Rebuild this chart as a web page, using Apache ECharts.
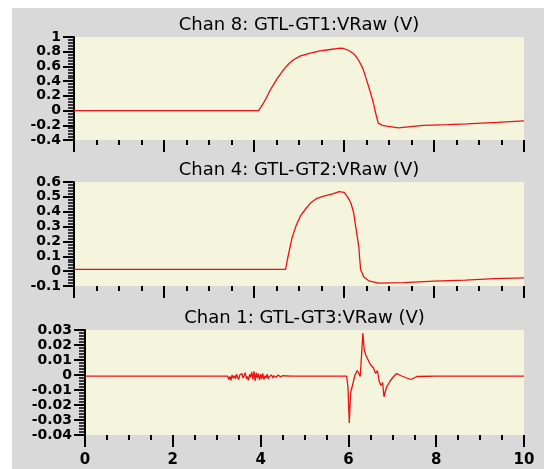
<!DOCTYPE html>
<html>
<head>
<meta charset="utf-8">
<script src="https://cdn.jsdelivr.net/npm/echarts@6/dist/echarts.min.js"></script>
<style>
  html, body { margin: 0; padding: 0; background: #fff; }
  #chart { width: 544px; height: 469px; }
</style>
</head>
<body>
<div id="chart"></div>
<script>
// panel titles
var titles = ["Chan 8: GTL-GT1:VRaw (V)", "Chan 4: GTL-GT2:VRaw (V)", "Chan 1: GTL-GT3:VRaw (V)"];

// Chan 8 (time in s, volts)
var chan8X = [0, 3.70, 3.72, 3.74, 3.86, 3.88, 3.95, 3.97, 4.10, 4.13, 4.20, 4.29, 4.36, 4.44, 4.51, 4.59, 4.69, 4.78, 4.88, 5.02, 5.25, 5.47, 5.70, 5.87, 5.96, 6.10, 6.22, 6.32, 6.42, 6.50, 6.58, 6.65, 6.71, 6.76, 6.85, 6.95, 7.21, 7.76, 8.30, 8.73, 9.40, 10];
var chan8Y = [0, 0, 0.012, 0, 0, 0.01, 0, 0.01, 0, 0.02, 0.09, 0.19, 0.28, 0.36, 0.43, 0.50, 0.58, 0.64, 0.69, 0.74, 0.78, 0.81, 0.83, 0.845, 0.85, 0.82, 0.77, 0.69, 0.57, 0.42, 0.26, 0.11, -0.05, -0.17, -0.20, -0.21, -0.235, -0.20, -0.19, -0.18, -0.16, -0.14];

// Chan 4
var chan4X = [0, 4.70, 4.72, 4.74, 4.80, 4.85, 4.94, 5.03, 5.15, 5.26, 5.40, 5.55, 5.75, 5.89, 6.00, 6.08, 6.15, 6.21, 6.26, 6.30, 6.33, 6.35, 6.37, 6.44, 6.55, 6.77, 7.33, 8.00, 8.70, 9.34, 10];
var chan4Y = [0.012, 0.012, 0.04, 0.075, 0.16, 0.23, 0.31, 0.37, 0.42, 0.46, 0.49, 0.505, 0.52, 0.535, 0.53, 0.50, 0.46, 0.40, 0.30, 0.22, 0.16, 0.08, 0.01, -0.04, -0.065, -0.08, -0.077, -0.067, -0.06, -0.05, -0.045];

// Chan 1
var chan1X = [0, 0.8, 0.82, 1.5, 1.52, 2.0, 2.5, 2.52, 3.0,
  3.250, 3.275, 3.300, 3.325, 3.350, 3.375, 3.400, 3.425, 3.450, 3.475, 3.500, 3.525, 3.550, 3.575, 3.600, 3.625,
  3.650, 3.675, 3.700, 3.725, 3.750, 3.775, 3.800, 3.825, 3.850, 3.875, 3.900, 3.925, 3.950, 3.975, 4.000, 4.025,
  4.050, 4.075, 4.100, 4.125, 4.150, 4.175, 4.200, 4.225, 4.250, 4.275, 4.300, 4.350, 4.400, 4.450, 4.500,
  4.70, 4.72, 5.00, 5.50, 5.52, 5.96, 5.99, 6.02, 6.05, 6.10, 6.15, 6.20, 6.23, 6.27, 6.30, 6.33, 6.36, 6.40, 6.45,
  6.50, 6.54, 6.57, 6.62, 6.66, 6.70, 6.74, 6.78, 6.81, 6.87, 6.95, 7.03, 7.10, 7.20, 7.33, 7.43, 7.56, 8.0, 8.5, 8.52, 9.0, 9.5, 9.52, 10];
var chan1Y = [-0.0007, -0.0007, 0.0002, -0.0007, 0.0001, -0.0007, -0.0007, 0.0002, -0.0007,
  -0.0007, -0.0030, -0.0010, -0.0035, 0.0000, -0.0020, -0.0005, -0.0025, 0.0005, -0.0015, -0.0030, 0.0000, -0.0010, 0.0010, -0.0020, -0.0005,
  0.0015, -0.0025, -0.0010, -0.0035, 0.0005, -0.0015, 0.0020, -0.0030, 0.0025, -0.0040, 0.0015, -0.0020, 0.0010, -0.0035, 0.0005, -0.0025,
  0.0010, -0.0030, -0.0005, -0.0020, 0.0005, -0.0025, -0.0010, -0.0015, 0.0000, -0.0020, -0.0005, -0.0015, 0.0000, -0.0012, -0.0005,
  -0.0007, 0.0002, -0.0007, -0.0007, 0.0001, -0.0007, -0.008, -0.032, -0.012, -0.006, 0, 0.003, 0.0015, -0.001, -0.001, 0.028, 0.017, 0.013, 0.010,
  0.007, 0.008, 0.0047, 0.001, 0.003, -0.004, -0.007, -0.005, -0.0145, -0.008, -0.004, -0.001, 0.001, -0.0005, -0.002, -0.003, -0.001, -0.0007, -0.0007, 0.0002, -0.0007, -0.0007, 0.0002, -0.0007];

// x axis tick labels
var xTicks = [0, 2, 4, 6, 8, 10];

function zip(xs, ys) {
  return xs.map(function (x, i) { return [x, ys[i]]; });
}

var RED = "#ee1111";
var grids = [
  { left: 74, top: 37, width: 450, height: 103 },
  { left: 74, top: 182, width: 450, height: 104 },
  { left: 85, top: 330, width: 439, height: 105 }
];
var yRanges = [
  { min: -0.4, max: 1, interval: 0.2 },
  { min: -0.1, max: 0.6, interval: 0.1 },
  { min: -0.04, max: 0.03, interval: 0.01 }
];

var chart = echarts.init(document.getElementById("chart"));

var option = {
  backgroundColor: "#ffffff",
  animation: false,
  graphic: [
    { type: "rect", z: -100, shape: { x: 12, y: 8, width: 532, height: 461 }, style: { fill: "#d9d9d9" } }
  ],
  grid: [],
  xAxis: [],
  yAxis: [],
  series: []
};

for (var i = 0; i < 3; i++) {
  var g = grids[i];
  option.grid.push({
    left: g.left, top: g.top, width: g.width, height: g.height,
    show: true, backgroundColor: "#f5f4dc", borderWidth: 0
  });
  option.graphic.push({
    type: "text",
    x: g.left + g.width / 2,
    y: g.top - 12,
    style: {
      text: titles[i],
      fill: "#000",
      font: "18px 'DejaVu Sans'",
      textAlign: "center",
      textVerticalAlign: "middle"
    }
  });
  option.xAxis.push({
    gridIndex: i,
    type: "value",
    min: 0, max: 10, interval: 2,
    axisLine: { show: false, onZero: false },
    axisTick: { show: true, length: 12, lineStyle: { color: "#000", width: 2 } },
    minorTick: { show: true, splitNumber: 4, length: 5, lineStyle: { color: "#000", width: 2 } },
    splitLine: { show: false },
    axisLabel: {
      show: i === 2,
      margin: 18,
      color: "#000",
      fontFamily: "DejaVu Sans",
      fontWeight: "bold",
      fontSize: 15,
      formatter: function (v) { return xTicks.indexOf(v) >= 0 ? String(v) : ""; }
    }
  });
  option.yAxis.push({
    gridIndex: i,
    type: "value",
    min: yRanges[i].min, max: yRanges[i].max, interval: yRanges[i].interval,
    axisLine: { show: true, onZero: false, lineStyle: { color: "#000", width: 2 } },
    axisTick: { show: true, length: 11, lineStyle: { color: "#000", width: 2 } },
    minorTick: { show: true, splitNumber: 5, length: 6, lineStyle: { color: "#000", width: 1.5 } },
    splitLine: { show: false },
    axisLabel: {
      margin: 13,
      color: "#000",
      fontFamily: "DejaVu Sans",
      fontWeight: "bold",
      fontSize: 14
    }
  });
}

var datasets = [zip(chan8X, chan8Y), zip(chan4X, chan4Y), zip(chan1X, chan1Y)];
datasets.forEach(function (d, i) {
  option.series.push({
    type: "line",
    xAxisIndex: i,
    yAxisIndex: i,
    data: d,
    showSymbol: false,
    lineStyle: { color: RED, width: 1.3 }
  });
});

chart.setOption(option);
</script>
</body>
</html>
